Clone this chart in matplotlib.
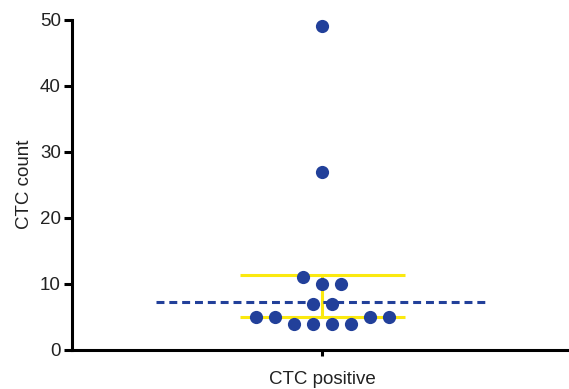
import matplotlib
matplotlib.use("Agg")
import matplotlib.pyplot as plt

plt.rcParams['font.family'] = ['Liberation Sans', 'DejaVu Sans']

# CTC counts per patient
counts = [49, 27, 11, 10, 10, 7, 7, 5, 5, 5, 5, 4, 4, 4, 4]
# horizontal swarm slot of each dot (in dot spacings from the centre)
slots = [0, 0, -1, 0, 1, -0.5, 0.5, -3.5, -2.5, 2.5, 3.5, -1.5, -0.5, 0.5, 1.5]
category = "CTC positive"
cutoff = 7.3          # dashed reference line
bar_low, bar_high = 5.0, 11.3

dot_color = '#22409a'
bar_color = '#fbe90f'

fig = plt.figure(figsize=(5.69, 3.89), dpi=100)
ax = fig.add_axes([72 / 569, 39 / 389, 497 / 569, 330.5 / 389])

spacing = 0.076
xs = [s * spacing for s in slots]

# error bar (yellow)
ax.hlines([bar_low, bar_high], -0.33, 0.33, color=bar_color, lw=2.2, zorder=2)
ax.vlines(0, bar_low, bar_high, color=bar_color, lw=2.2, zorder=2)

# dashed line
ax.hlines(cutoff, -0.665, 0.665, color=dot_color, lw=2.2,
          linestyles=(0, (2.6, 1.6)), zorder=3)

ax.plot(xs, counts, 'o', color=dot_color, ms=9.5, mew=0, zorder=4,
        clip_on=False)

ax.set_xlim(-1, 0.988)
ax.set_ylim(0, 50)
ax.set_yticks([0, 10, 20, 30, 40, 50])
ax.set_xticks([0])
ax.set_xticklabels([category])
ax.set_ylabel("CTC count", fontsize=13.5, color='#222222', labelpad=5)

for side in ['top', 'right']:
    ax.spines[side].set_visible(False)
for side in ['left', 'bottom']:
    ax.spines[side].set_linewidth(2.2)
ax.tick_params(axis='y', length=5.5, width=2.2, labelsize=13.5,
               labelcolor='#222222', pad=2.5)
ax.tick_params(axis='x', length=4, width=2.2, labelsize=13.5,
               labelcolor='#222222', pad=11)

plt.savefig("out.png", dpi=100)
